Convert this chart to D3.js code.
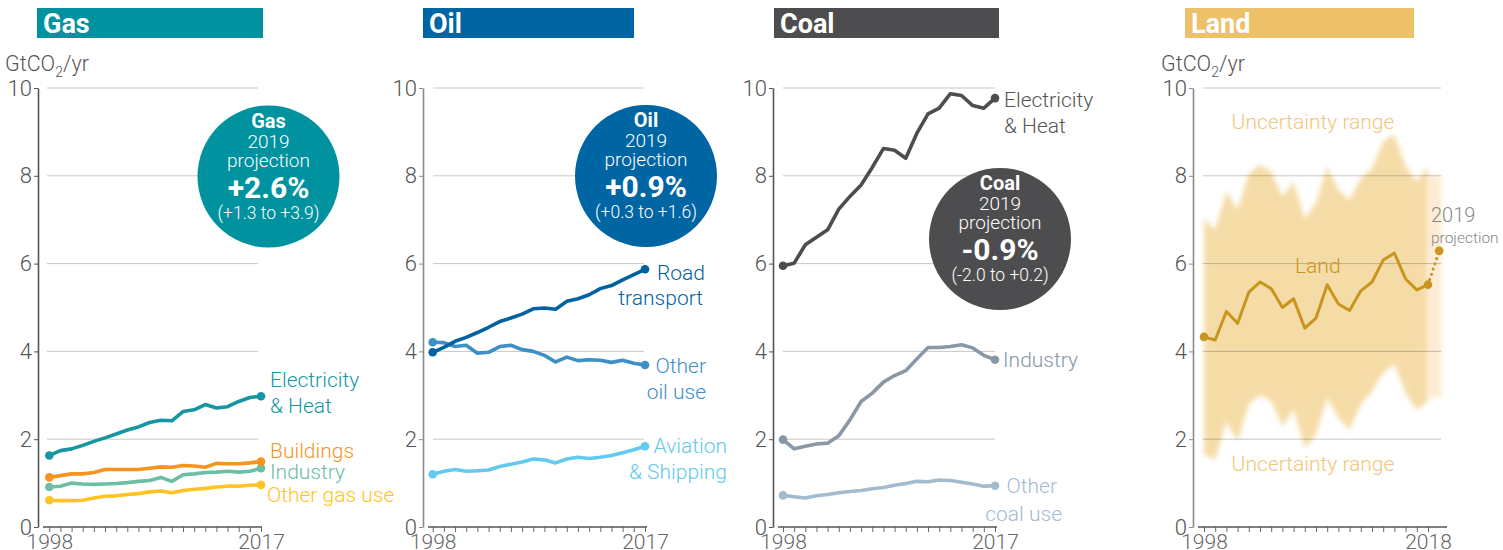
<!DOCTYPE html>
<html>
<head>
<meta charset="utf-8">
<script src="https://cdn.jsdelivr.net/npm/d3@7"></script>
<style>
  body { margin: 0; background: #fff; }
  svg text { font-family: Roboto, "Open Sans", sans-serif; }
</style>
</head>
<body>
<div id="chart"></div>
<script>
// ---- data (GtCO2/yr) ----
var years = [1998, 1999, 2000, 2001, 2002, 2003, 2004, 2005, 2006, 2007,
             2008, 2009, 2010, 2011, 2012, 2013, 2014, 2015, 2016, 2017];
var landYears = [1998, 1999, 2000, 2001, 2002, 2003, 2004, 2005, 2006, 2007,
                 2008, 2009, 2010, 2011, 2012, 2013, 2014, 2015, 2016, 2017, 2018];
var yTicks = [0, 2, 4, 6, 8, 10];

var gasElec  = [1.63, 1.74, 1.78, 1.86, 1.95, 2.03, 2.12, 2.21, 2.28, 2.38, 2.43, 2.42, 2.63, 2.67, 2.79, 2.71, 2.74, 2.86, 2.95, 2.98];
var gasBuild = [1.13, 1.17, 1.21, 1.21, 1.24, 1.31, 1.31, 1.31, 1.31, 1.34, 1.37, 1.36, 1.40, 1.39, 1.36, 1.45, 1.44, 1.44, 1.46, 1.49];
var gasInd   = [0.91, 0.93, 1.00, 0.98, 0.97, 0.98, 0.99, 1.01, 1.04, 1.06, 1.13, 1.04, 1.19, 1.21, 1.24, 1.25, 1.27, 1.25, 1.27, 1.34];
var gasOther = [0.61, 0.60, 0.60, 0.61, 0.66, 0.70, 0.71, 0.74, 0.76, 0.80, 0.82, 0.78, 0.83, 0.86, 0.88, 0.91, 0.93, 0.93, 0.95, 0.96];

var oilRoad  = [3.98, 4.09, 4.23, 4.32, 4.43, 4.55, 4.68, 4.76, 4.85, 4.97, 4.99, 4.96, 5.14, 5.20, 5.29, 5.43, 5.50, 5.63, 5.75, 5.87];
var oilOther = [4.21, 4.20, 4.11, 4.14, 3.96, 3.98, 4.11, 4.14, 4.04, 4.00, 3.91, 3.76, 3.87, 3.79, 3.81, 3.80, 3.75, 3.80, 3.73, 3.69];
var oilAvi   = [1.20, 1.27, 1.31, 1.27, 1.28, 1.30, 1.38, 1.43, 1.48, 1.55, 1.53, 1.46, 1.55, 1.59, 1.56, 1.59, 1.63, 1.69, 1.76, 1.84];

var coalElec  = [5.95, 6.01, 6.43, 6.60, 6.77, 7.24, 7.53, 7.79, 8.19, 8.62, 8.58, 8.40, 8.97, 9.41, 9.54, 9.87, 9.83, 9.60, 9.54, 9.77];
var coalInd   = [1.99, 1.78, 1.84, 1.89, 1.91, 2.08, 2.44, 2.86, 3.05, 3.30, 3.45, 3.56, 3.83, 4.09, 4.09, 4.11, 4.15, 4.08, 3.91, 3.81];
var coalOther = [0.72, 0.69, 0.66, 0.71, 0.74, 0.78, 0.81, 0.83, 0.87, 0.90, 0.95, 0.99, 1.04, 1.03, 1.07, 1.06, 1.02, 0.98, 0.93, 0.94];

var landNet  = [4.33, 4.26, 4.91, 4.64, 5.35, 5.58, 5.43, 5.00, 5.20, 4.53, 4.76, 5.52, 5.08, 4.93, 5.38, 5.58, 6.08, 6.24, 5.65, 5.40, 5.52];
var landHigh = [7.03, 6.77, 7.64, 7.22, 8.06, 8.25, 8.10, 7.53, 7.87, 7.03, 7.38, 8.21, 7.68, 7.45, 7.95, 8.17, 8.78, 8.94, 8.21, 7.87, 8.21];
var landLow  = [1.65, 1.53, 2.41, 1.95, 2.79, 3.01, 2.86, 2.29, 2.67, 1.80, 2.10, 2.94, 2.48, 2.22, 2.79, 3.09, 3.51, 3.71, 3.05, 2.67, 2.86];
var landProjYear = 2019;
var landProj = 6.29;
var landProjRange = [2.95, 8.0];

var projections = [
  { name: "Gas",  value: "+2.6%", range: "(+1.3 to +3.9)" },
  { name: "Oil",  value: "+0.9%", range: "(+0.3 to +1.6)" },
  { name: "Coal", value: "-0.9%", range: "(-2.0 to +0.2)" }
];

// ---- layout ----
var width = 1503, height = 550;

var svg = d3.select("#chart").append("svg")
            .attr("width", width)
            .attr("height", height);

var defs = svg.append("defs");
defs.append("filter")
    .attr("id", "soft")
    .attr("x", "-10%").attr("y", "-10%")
    .attr("width", "120%").attr("height", "120%")
  .append("feGaussianBlur")
    .attr("stdDeviation", 2.4);

var y = d3.scaleLinear().domain([0, 10]).range([527, 88]);

var panels = [
  { title: "Gas",  color: "#00929e", bar: [37, 263],   axisX: 38,   axisColor: "#555",
    xr: [49.3, 261], yrs: years, grid: [47, 258], base: [43, 262], unit: 5 },
  { title: "Oil",  color: "#0065a3", bar: [423, 634],  axisX: 423,  axisColor: "#8a8a8a",
    xr: [432.7, 645], yrs: years, grid: [433, 644], base: [428, 647] },
  { title: "Coal", color: "#4d4d4f", bar: [774, 999],  axisX: 773,  axisColor: "#555",
    xr: [783, 995], yrs: years, grid: [783, 995], base: [778, 997] },
  { title: "Land", color: "#edc06a", bar: [1185, 1414], axisX: 1193, axisColor: "#8a8a8a",
    xr: [1204, 1428], yrs: landYears, grid: [1203, 1441], base: [1198, 1447], unit: 1161 }
];

panels.forEach(p => {
  var yrs = p.yrs;
  p.x = d3.scaleLinear()
          .domain([yrs[0], yrs[yrs.length - 1]])
          .range(p.xr);

  var g = svg.append("g").attr("class", "panel");
  p.g = g;

  // title bar
  g.append("rect")
   .attr("x", p.bar[0]).attr("y", 8)
   .attr("width", p.bar[1] - p.bar[0]).attr("height", 30)
   .attr("fill", p.color);
  g.append("text")
   .attr("x", p.bar[0] + 6).attr("y", 33)
   .attr("fill", "#fff")
   .style("font-size", "27px").style("font-weight", 700)
   .text(p.title);

  if (p.unit) {
    var u = g.append("text")
             .attr("x", p.unit).attr("y", 71)
             .attr("fill", "#555")
             .style("font-size", "21.5px").style("font-weight", 300);
    u.append("tspan").text("GtCO");
    u.append("tspan").attr("dy", 6).style("font-size", "14px").text("2");
    u.append("tspan").attr("dy", -6).text("/yr");
  }

  p.back = g.append("g");

  // grid
  g.append("g").selectAll("line")
   .data(yTicks.filter(d => d > 0))
   .enter().append("line")
   .attr("x1", p.grid[0]).attr("x2", p.grid[1])
   .attr("y1", d => y(d)).attr("y2", d => y(d))
   .attr("stroke", "rgba(0,0,0,0.22)")
   .attr("stroke-width", 1);

  // y axis
  var ya = g.append("g")
            .attr("transform", "translate(" + p.axisX + ",0)")
            .call(d3.axisLeft(y).tickValues(yTicks).tickSize(4).tickSizeOuter(0).tickPadding(2));
  ya.select(".domain").attr("stroke", p.axisColor).attr("stroke-width", 1.6);
  ya.selectAll(".tick line").attr("stroke", p.axisColor);
  ya.selectAll(".tick text")
    .attr("fill", "#555")
    .style("font-size", "22px").style("font-weight", 300)
    .style("font-family", "Roboto, sans-serif");

  // x axis
  var xa = g.append("g")
            .attr("transform", "translate(0,527)")
            .call(d3.axisBottom(p.x)
                    .tickValues(yrs)
                    .tickSize(5)
                    .tickPadding(2)
                    .tickFormat((d, i) => (i === 0 || i === yrs.length - 1) ? d : ""));
  xa.select(".domain").remove();
  xa.selectAll(".tick line").attr("stroke", "#666");
  xa.selectAll(".tick text")
    .attr("fill", "#666")
    .style("font-size", "21px").style("font-weight", 300)
    .style("font-family", "Roboto, sans-serif");
  g.append("line")
   .attr("x1", p.base[0]).attr("x2", p.base[1])
   .attr("y1", 527).attr("y2", 527)
   .attr("stroke", "#555").attr("stroke-width", 1.6);

  p.front = g.append("g");
});

function drawSeries(p, values, color) {
  var line = d3.line()
               .x((d, i) => p.x(p.yrs[i]))
               .y(d => y(d));
  p.front.append("path")
   .datum(values)
   .attr("d", line)
   .attr("fill", "none")
   .attr("stroke", color)
   .attr("stroke-width", 3.6)
   .attr("stroke-linejoin", "round");
  p.front.selectAll(null)
   .data([0, values.length - 1])
   .enter().append("circle")
   .attr("cx", i => p.x(p.yrs[i]))
   .attr("cy", i => y(values[i]))
   .attr("r", 4.3)
   .attr("fill", color);
}

function label(p, lines, x, y0, color, anchor, size) {
  var t = p.front.append("text")
           .attr("fill", color)
           .attr("text-anchor", anchor || "start")
           .style("font-size", (size || 21) + "px")
           .style("font-weight", 300);
  lines.forEach((s, i) => {
    t.append("tspan").attr("x", x).attr("y", y0 + i * 26).text(s);
  });
}

// ---- Gas ----
var gas = panels[0];
drawSeries(gas, gasOther, "#ffc324");
drawSeries(gas, gasInd, "#6cbea4");
drawSeries(gas, gasBuild, "#f7941e");
drawSeries(gas, gasElec, "#1596a2");
label(gas, ["Electricity", "& Heat"], 270, 387, "#1596a2");
label(gas, ["Buildings"], 270, 458, "#f7941e");
label(gas, ["Industry"], 270, 479, "#6cbea4");
label(gas, ["Other gas use"], 267, 502, "#ffc324");

// ---- Oil ----
var oil = panels[1];
drawSeries(oil, oilAvi, "#62c9ef");
drawSeries(oil, oilOther, "#3d8fc6");
drawSeries(oil, oilRoad, "#0062a0");
label(oil, ["Road"], 705, 280, "#0062a0", "end");
label(oil, ["transport"], 703, 305, "#0062a0", "end");
label(oil, ["Other", "oil use"], 706, 373, "#3d8fc6", "end");
label(oil, ["Aviation", "& Shipping"], 727, 453, "#62c9ef", "end");

// ---- Coal ----
var coal = panels[2];
drawSeries(coal, coalOther, "#a3bbcf");
drawSeries(coal, coalInd, "#8898a6");
drawSeries(coal, coalElec, "#4d4d4f");
label(coal, ["Electricity", "& Heat"], 1004, 107, "#555");
label(coal, ["Industry"], 1003, 367, "#8898a6");
label(coal, ["Other"], 1057, 493, "#a3bbcf", "end");
label(coal, ["coal use"], 1062, 521, "#a3bbcf", "end");

// ---- Land ----
var land = panels[3];
var band = d3.area()
             .x((d, i) => land.x(landYears[i]))
             .y0((d, i) => y(landLow[i]))
             .y1(d => y(d));
land.back.append("rect")
    .attr("x", land.x(landYears[landYears.length - 1]))
    .attr("width", land.x(landProjYear) - land.x(landYears[landYears.length - 1]) + 2.5)
    .attr("y", y(landProjRange[1]))
    .attr("height", y(landProjRange[0]) - y(landProjRange[1]))
    .attr("fill", "#fdebd3")
    .attr("filter", "url(#soft)");
land.back.append("path")
    .datum(landHigh)
    .attr("d", band)
    .attr("fill", "#f5dca7")
    .attr("filter", "url(#soft)");

land.front.append("path")
    .datum(landNet)
    .attr("d", d3.line().x((d, i) => land.x(landYears[i])).y(d => y(d)))
    .attr("fill", "none")
    .attr("stroke", "#c9961d")
    .attr("stroke-width", 3)
    .attr("stroke-linejoin", "round");
var lastYr = landYears[landYears.length - 1], lastVal = landNet[landNet.length - 1];
land.front.append("line")
    .attr("x1", land.x(lastYr)).attr("y1", y(lastVal))
    .attr("x2", land.x(landProjYear)).attr("y2", y(landProj))
    .attr("stroke", "#c9961d")
    .attr("stroke-width", 3.2)
    .attr("stroke-linecap", "round")
    .attr("stroke-dasharray", "0,5.5");
land.front.selectAll(null)
    .data([[landYears[0], landNet[0]], [lastYr, lastVal], [landProjYear, landProj]])
    .enter().append("circle")
    .attr("cx", d => land.x(d[0]))
    .attr("cy", d => y(d[1]))
    .attr("r", 4.3)
    .attr("fill", "#c9961d");
label(land, ["Land"], 1295, 273, "#c9961d");
label(land, ["Uncertainty range"], 1313, 129, "#f2c67d", "middle");
label(land, ["Uncertainty range"], 1313, 471, "#f2c67d", "middle");
land.front.append("text")
    .attr("x", 1431).attr("y", 222)
    .attr("fill", "#888")
    .style("font-size", "20px").style("font-weight", 300)
    .text("2019");
land.front.append("text")
    .attr("x", 1431).attr("y", 243)
    .attr("fill", "#888")
    .style("font-size", "15.5px").style("font-weight", 300)
    .text("projection");

// ---- projection bubbles ----
var bubbles = [
  { p: gas,  cx: 268.5, cy: 176.5 },
  { p: oil,  cx: 646,   cy: 176 },
  { p: coal, cx: 1000,  cy: 239 }
];
bubbles.forEach((b, i) => {
  var d = projections[i];
  var g = b.p.front.append("g").attr("transform", "translate(" + b.cx + "," + b.cy + ")");
  g.append("circle").attr("r", 71).attr("fill", b.p.color);
  var rows = [
    { t: d.name, dy: -49, size: 20, w: 700 },
    { t: "2019", dy: -29, size: 19, w: 300 },
    { t: "projection", dy: -10, size: 19, w: 300 },
    { t: d.value, dy: 21, size: 30, w: 700 },
    { t: d.range, dy: 42, size: 17.5, w: 300 }
  ];
  g.selectAll("text")
   .data(rows)
   .enter().append("text")
   .attr("y", r => r.dy)
   .attr("text-anchor", "middle")
   .attr("fill", "#fff")
   .style("font-size", r => r.size + "px")
   .style("font-weight", r => r.w)
   .text(r => r.t);
});
</script>
</body>
</html>
